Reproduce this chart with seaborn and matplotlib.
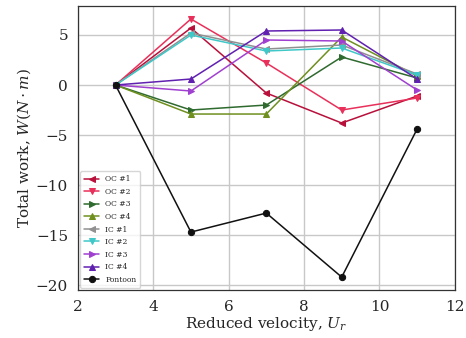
import matplotlib
matplotlib.use("Agg")
import matplotlib.pyplot as plt
import seaborn as sns
import pandas as pd

ur = [3, 5, 7, 9, 11]
series_names = ["OC #1", "OC #2", "OC #3", "OC #4", "IC #1", "IC #2", "IC #3", "IC #4", "Pontoon"]
oc1 = [0, 5.7, -0.8, -3.8, -1.1]
oc2 = [0, 6.6, 2.2, -2.5, -1.3]
oc3 = [0, -2.5, -2.0, 2.8, 0.7]
oc4 = [0, -2.9, -2.9, 4.8, 0.9]
ic1 = [0, 5.2, 3.6, 4.0, 1.1]
ic2 = [0, 5.0, 3.4, 3.7, 1.0]
ic3 = [0, -0.6, 4.5, 4.4, -0.5]
ic4 = [0, 0.6, 5.4, 5.5, 0.6]
pontoon = [0, -14.7, -12.8, -19.2, -4.4]
values = [oc1, oc2, oc3, oc4, ic1, ic2, ic3, ic4, pontoon]

colors = ["#b8103a", "#e8305a", "#2f6a2f", "#6f8f1f", "#909090", "#40c8c8", "#a040d0", "#6020b0", "#111111"]
markers = ["<", "v", ">", "^", "<", "v", ">", "^", "o"]

rows = []
for name, vals in zip(series_names, values):
    for x, y in zip(ur, vals):
        rows.append({"Ur": x, "W": y, "series": name})
df = pd.DataFrame(rows)

sns.set_theme(style="whitegrid")
plt.rcParams["font.family"] = ["DejaVu Serif"]
plt.rcParams["mathtext.fontset"] = "dejavuserif"

fig, ax = plt.subplots(figsize=(4.66, 3.38), dpi=100)
fig.subplots_adjust(left=0.167, right=0.976, top=0.982, bottom=0.142)

sns.lineplot(data=df, x="Ur", y="W", hue="series", style="series",
             hue_order=series_names, style_order=series_names,
             palette=dict(zip(series_names, colors)),
             markers=dict(zip(series_names, markers)), dashes=False,
             markersize=4.5, linewidth=1.1, markeredgecolor=None, ax=ax)

ax.set_xlim(2, 12)
ax.set_xticks([2, 4, 6, 8, 10, 12])
ax.set_yticks([-20, -15, -10, -5, 0, 5])
ax.tick_params(labelsize=11, pad=1)
ax.set_xlabel("Reduced velocity, $U_r$", fontsize=11, labelpad=1)
ax.set_ylabel(r"Total work, $W(N \cdot m)$", fontsize=11, labelpad=2)
ax.grid(True, color="#c8c8c8", linewidth=1.0)
for s in ax.spines.values():
    s.set_color("#333333")
    s.set_linewidth(0.9)

leg = ax.legend(loc="lower left", fontsize=5.5, frameon=True, handlelength=2.0,
                labelspacing=0.6, borderpad=0.5, borderaxespad=0.3)
leg.get_frame().set_edgecolor("#cccccc")

fig.savefig("out.png", dpi=100)
